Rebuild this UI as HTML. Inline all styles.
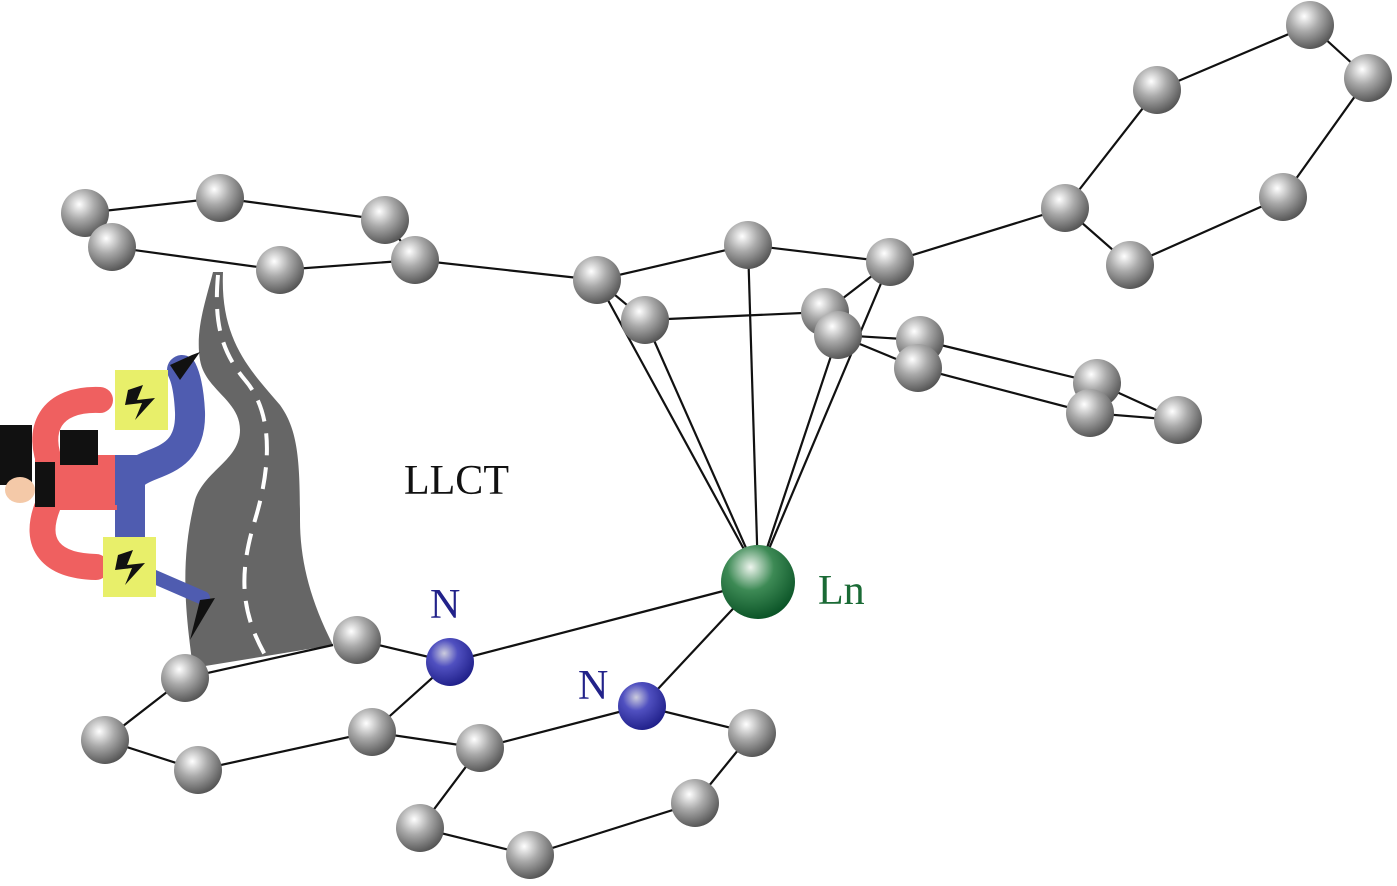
<!DOCTYPE html>
<html><head><style>body{margin:0;background:#fff}svg{display:block}</style></head><body>
<svg width="1397" height="886" viewBox="0 0 1397 886" xmlns="http://www.w3.org/2000/svg">
<defs>
<radialGradient id="g" cx="0.38" cy="0.32" r="0.7"><stop offset="0" stop-color="#fff"/><stop offset="0.45" stop-color="#aaa"/><stop offset="1" stop-color="#555"/></radialGradient>
<radialGradient id="b" cx="0.38" cy="0.32" r="0.7"><stop offset="0" stop-color="#ccd"/><stop offset="0.4" stop-color="#5050c0"/><stop offset="1" stop-color="#20208a"/></radialGradient>
<radialGradient id="gr" cx="0.4" cy="0.3" r="0.7"><stop offset="0" stop-color="#eef5ee"/><stop offset="0.45" stop-color="#3d8a55"/><stop offset="1" stop-color="#0c5528"/></radialGradient>
</defs>
<!-- road -->
<path d="M213,272 C206,300 195,330 200,360 C205,390 240,400 240,430 C240,460 205,470 195,500 C180,560 185,610 193,668 L333,645 C310,600 300,560 300,520 C300,460 298,430 280,405 C250,370 220,340 223,272 Z" fill="#666"/>
<path d="M218,275 C214,320 220,350 245,380 C275,415 270,470 255,520 C240,570 238,610 268,660" fill="none" stroke="#fff" stroke-width="4" stroke-dasharray="22,12"/>
<!-- person -->
<g fill="none" stroke-linecap="round">
<path d="M130,540 L130,480 C140,458 192,470 190,412 C189,392 186,378 182,370" stroke="#4f5cb0" stroke-width="30"/>
<path d="M150,575 L203,598" stroke="#4f5cb0" stroke-width="14"/>
<path d="M52,468 C35,430 50,398 100,400" stroke="#ef6060" stroke-width="26"/>
<path d="M48,505 C32,545 52,566 96,567" stroke="#ef6060" stroke-width="26"/>
</g>
<rect x="35" y="455" width="82" height="55" fill="#ef6060"/>
<rect x="115" y="455" width="30" height="50" fill="#4f5cb0"/>
<rect x="60" y="430" width="38" height="35" fill="#111"/>
<rect x="35" y="462" width="20" height="45" fill="#111"/>
<rect x="0" y="425" width="32" height="60" fill="#111"/>
<ellipse cx="20" cy="490" rx="15" ry="13" fill="#f4c9a8"/>
<polygon points="170,365 192,355 200,352 180,380" fill="#111"/>
<polygon points="190,640 200,600 215,598" fill="#111"/>
<rect x="115" y="370" width="53" height="60" fill="#e8ef6a"/>
<rect x="103" y="537" width="53" height="60" fill="#e8ef6a"/>
<polygon points="128,390 143,385 137,400 155,398 135,420 142,403 125,405" fill="#111"/>
<polygon points="118,555 133,550 127,565 145,563 125,585 132,568 115,570" fill="#111"/>
<!-- bonds -->
<g stroke="#111" stroke-width="2.2" fill="none">
<polygon points="85,213 220,198 385,220 415,260 280,270 112,247"/>
<line x1="415" y1="260" x2="597" y2="280"/>
<polyline points="597,280 748,245 890,262"/>
<line x1="597" y1="280" x2="645" y2="320"/>
<line x1="645" y1="320" x2="825" y2="312"/>
<line x1="890" y1="262" x2="825" y2="312"/>
<polyline points="838,335 920,340 1097,383 1178,420 1090,413 918,368 838,335"/>
<line x1="890" y1="262" x2="1065" y2="208"/>
<polygon points="1065,208 1157,90 1310,25 1368,78 1283,197 1130,265"/>
<line x1="758" y1="575" x2="597" y2="280"/>
<line x1="758" y1="575" x2="645" y2="320"/>
<line x1="758" y1="575" x2="748" y2="245"/>
<line x1="758" y1="575" x2="890" y2="262"/>
<line x1="758" y1="575" x2="838" y2="335"/>
<line x1="758" y1="582" x2="450" y2="662"/>
<line x1="758" y1="582" x2="642" y2="706"/>
<polyline points="333,645 185,678 105,740 198,770 372,732 450,662 357,640"/>
<line x1="372" y1="732" x2="480" y2="748"/>
<polygon points="480,748 642,706 752,733 695,803 530,855 420,828"/>
</g>
<!-- atoms -->
<g fill="url(#g)">
<circle cx="85" cy="213" r="24"/><circle cx="220" cy="198" r="24"/><circle cx="385" cy="220" r="24"/><circle cx="112" cy="247" r="24"/><circle cx="280" cy="270" r="24"/><circle cx="415" cy="260" r="24"/>
<circle cx="597" cy="280" r="24"/><circle cx="748" cy="245" r="24"/><circle cx="890" cy="262" r="24"/><circle cx="645" cy="320" r="24"/><circle cx="825" cy="312" r="24"/><circle cx="838" cy="335" r="24"/>
<circle cx="920" cy="340" r="24"/><circle cx="918" cy="368" r="24"/><circle cx="1097" cy="383" r="24"/><circle cx="1090" cy="413" r="24"/><circle cx="1178" cy="420" r="24"/>
<circle cx="1065" cy="208" r="24"/><circle cx="1157" cy="90" r="24"/><circle cx="1310" cy="25" r="24"/><circle cx="1368" cy="78" r="24"/><circle cx="1283" cy="197" r="24"/><circle cx="1130" cy="265" r="24"/>
<circle cx="357" cy="640" r="24"/><circle cx="185" cy="678" r="24"/><circle cx="105" cy="740" r="24"/><circle cx="198" cy="770" r="24"/><circle cx="372" cy="732" r="24"/>
<circle cx="480" cy="748" r="24"/><circle cx="752" cy="733" r="24"/><circle cx="695" cy="803" r="24"/><circle cx="530" cy="855" r="24"/><circle cx="420" cy="828" r="24"/>
</g>
<circle cx="450" cy="662" r="24" fill="url(#b)"/>
<circle cx="642" cy="706" r="24" fill="url(#b)"/>
<circle cx="758" cy="582" r="37" fill="url(#gr)"/>
<g font-family="Liberation Serif, serif" font-size="42">
<text x="404" y="494" fill="#111">LLCT</text>
<text x="430" y="618" fill="#22228a">N</text>
<text x="578" y="699" fill="#22228a">N</text>
<text x="818" y="604" fill="#1a6a35">Ln</text>
</g>
</svg>
</body></html>
